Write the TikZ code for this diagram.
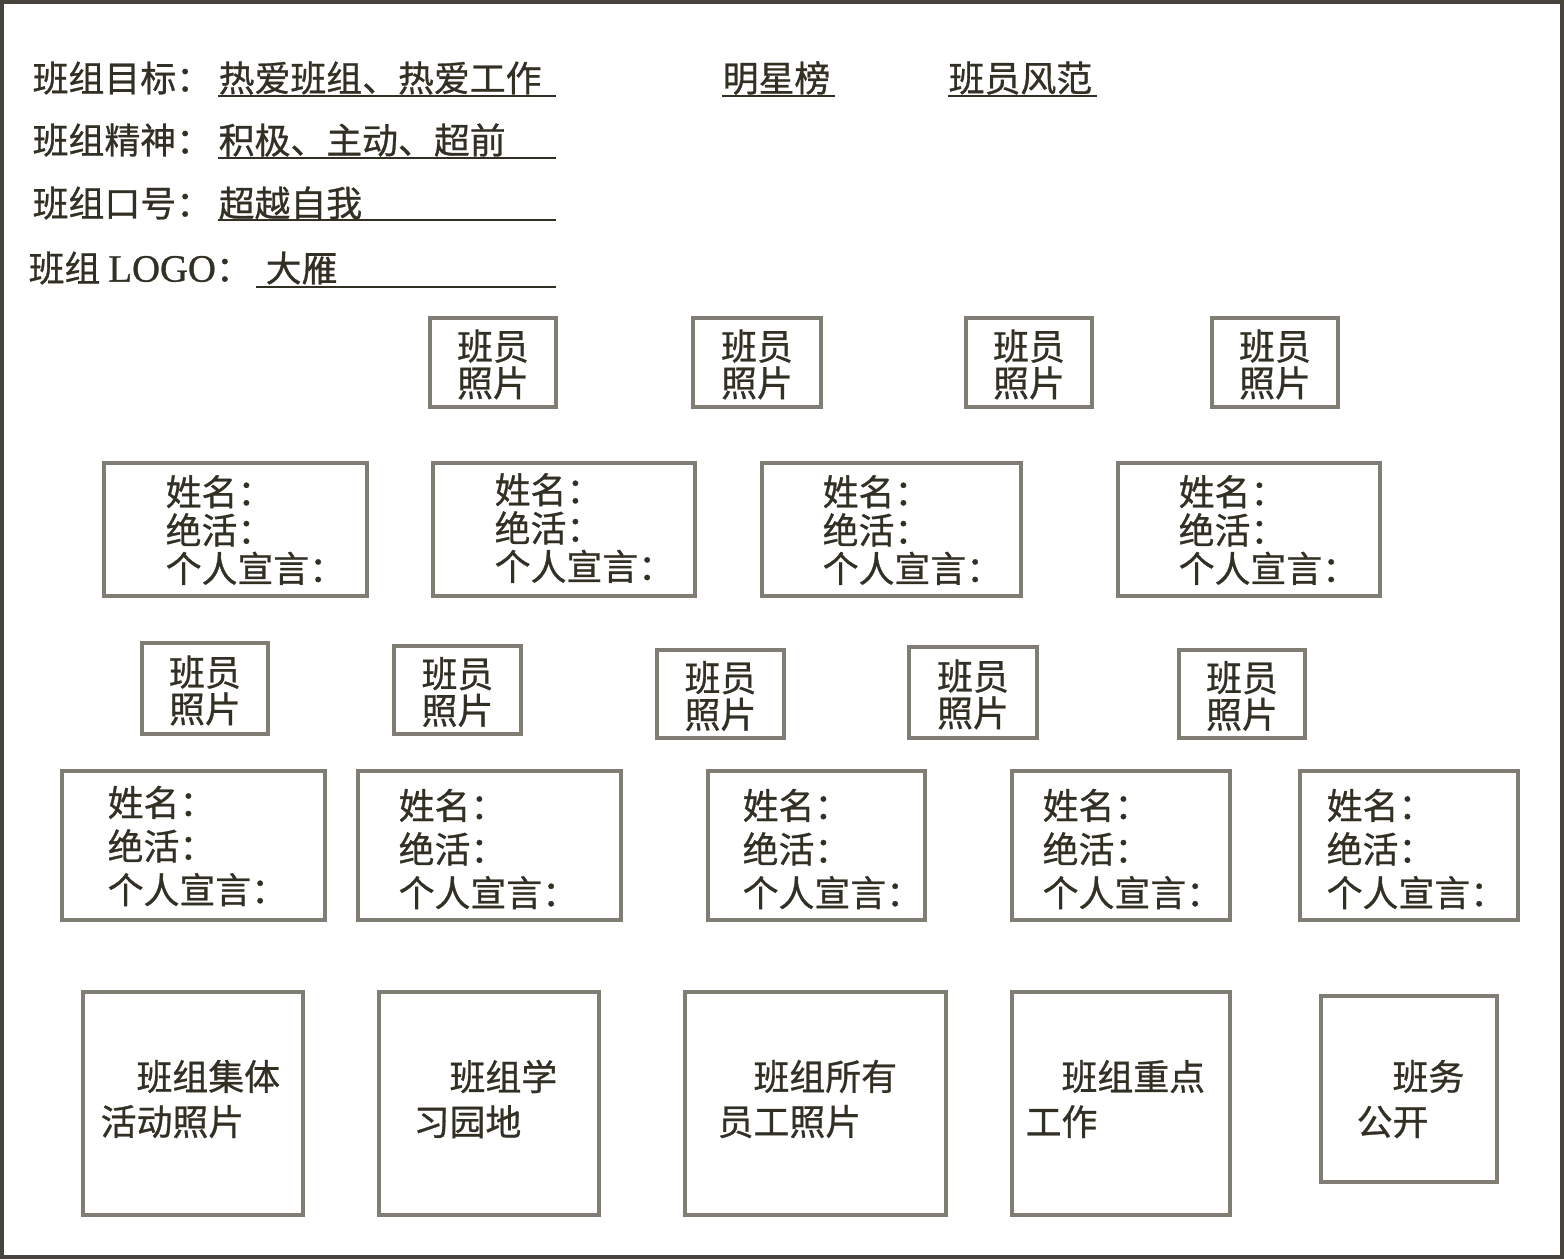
\documentclass[tikz,border=0pt]{standalone}
\usepackage{fontspec}
\setmainfont{Liberation Serif}[FakeBold=0.8]
\newfontfamily\cjk{Noto Sans CJK SC}[FakeBold=0.8]
\usetikzlibrary{fit}
\definecolor{ink}{RGB}{50,48,36}
\definecolor{edge}{RGB}{128,126,116}
\definecolor{frame}{RGB}{70,68,60}
\tikzset{
  tx/.style={inner sep=0pt, anchor=west, text=ink, font={\fontsize{10.2}{10.2}\selectfont\cjk}},
  bx/.style={draw=edge, line width=0.9pt, inner sep=0pt},
  ul/.style={draw=ink, line width=0.7pt},
  phototext/.style={inner sep=0pt, align=center, text=ink, font={\fontsize{10.2}{9.2}\selectfont\cjk}},
  infoa/.style={inner sep=0pt, anchor=west, align=left, text=ink, font={\fontsize{10.2}{10.9}\selectfont\cjk}},
  infob/.style={inner sep=0pt, anchor=west, align=left, text=ink, font={\fontsize{10.2}{12.4}\selectfont\cjk}},
  bigtext/.style={inner sep=0pt, anchor=west, align=left, text=ink, font={\fontsize{10.2}{12.8}\selectfont\cjk}},
}
\newcommand\photobox[3]{% name, corner1, corner2
  \node[bx, fit={#2 #3}] (#1) {};
  \node[phototext] (#1t) at ([yshift=-0.02cm]#1.center) {班员\\照片};
}
\begin{document}
\begin{tikzpicture}[x=0.01cm, y=-0.01cm]
\useasboundingbox (0,0) rectangle (1564,1259);
\draw[draw=frame, line width=0.9pt] (2,2) rectangle (1562,1257);

% header
\node[tx] (l1) at (32,78) {班组目标：};
\node[tx] (v1) at (218,78) {热爱班组、热爱工作};
\draw[ul] (218,96) -- (556,96);
\node[tx] (l2) at (32,140) {班组精神：};
\node[tx] (v2) at (218,140) {积极、主动、超前};
\draw[ul] (218,158) -- (556,158);
\node[tx] (l3) at (32,203) {班组口号：};
\node[tx] (v3) at (218,203) {超越自我};
\draw[ul] (218,220) -- (556,220);
\node[tx] (l4) at (28,268) {班组 {\rmfamily\fontsize{11}{11}\selectfont LOGO}：};
\node[tx] (v4) at (265,268) {大雁};
\draw[ul] (256,287) -- (556,287);
\node[tx] (star) at (722,78) {明星榜};
\draw[ul] (722,96) -- (835,96);
\node[tx] (style) at (948,78) {班员风范};
\draw[ul] (948,96) -- (1097,96);

% photo row 1
\photobox{pa}{(430,318)}{(556,407)}
\photobox{pb}{(693,318)}{(821,407)}
\photobox{pc}{(966,318)}{(1092,407)}
\photobox{pd}{(1212,318)}{(1338,407)}

% info row 1
\node[bx, fit={(104,463) (367,596)}] (ia) {};
\node[infoa] (iat) at (165,530) {姓名：\\绝活：\\个人宣言：};
\node[bx, fit={(433,463) (695,596)}] (ib) {};
\node[infoa] (ibt) at (494,528) {姓名：\\绝活：\\个人宣言：};
\node[bx, fit={(762,463) (1021,596)}] (ic) {};
\node[infoa] (ict) at (822,530) {姓名：\\绝活：\\个人宣言：};
\node[bx, fit={(1118,463) (1380,596)}] (id) {};
\node[infoa] (idt) at (1178,530) {姓名：\\绝活：\\个人宣言：};

% photo row 2
\photobox{qa}{(142,643)}{(268,734)}
\photobox{qb}{(394,646)}{(521,734)}
\photobox{qc}{(657,650)}{(784,738)}
\photobox{qd}{(909,647)}{(1037,738)}
\photobox{qe}{(1179,650)}{(1305,738)}

% info row 2
\node[bx, fit={(62,771) (325,920)}] (ja) {};
\node[infob] (jat) at (107,846) {姓名：\\绝活：\\个人宣言：};
\node[bx, fit={(358,771) (621,920)}] (jb) {};
\node[infob] (jbt) at (398,849) {姓名：\\绝活：\\个人宣言：};
\node[bx, fit={(708,771) (925,920)}] (jc) {};
\node[infob] (jct) at (742,849) {姓名：\\绝活：\\个人宣言：};
\node[bx, fit={(1012,771) (1230,920)}] (jd) {};
\node[infob] (jdt) at (1042,849) {姓名：\\绝活：\\个人宣言：};
\node[bx, fit={(1300,771) (1518,920)}] (je) {};
\node[infob] (jet) at (1326,849) {姓名：\\绝活：\\个人宣言：};

% bottom row
\node[bx, fit={(83,992) (303,1215)}] (ka) {};
\node[bigtext] (kat) at (100,1099) {\hspace*{1em}班组集体\\活动照片};
\node[bx, fit={(379,992) (599,1215)}] (kb) {};
\node[bigtext] (kbt) at (413,1099) {\hspace*{1em}班组学\\习园地};
\node[bx, fit={(685,992) (946,1215)}] (kc) {};
\node[bigtext] (kct) at (717,1099) {\hspace*{1em}班组所有\\员工照片};
\node[bx, fit={(1012,992) (1230,1215)}] (kd) {};
\node[bigtext] (kdt) at (1025,1099) {\hspace*{1em}班组重点\\工作};
\node[bx, fit={(1321,996) (1497,1182)}] (ke) {};
\node[bigtext] (ket) at (1356,1099) {\hspace*{1em}班务\\公开};
\end{tikzpicture}
\end{document}
